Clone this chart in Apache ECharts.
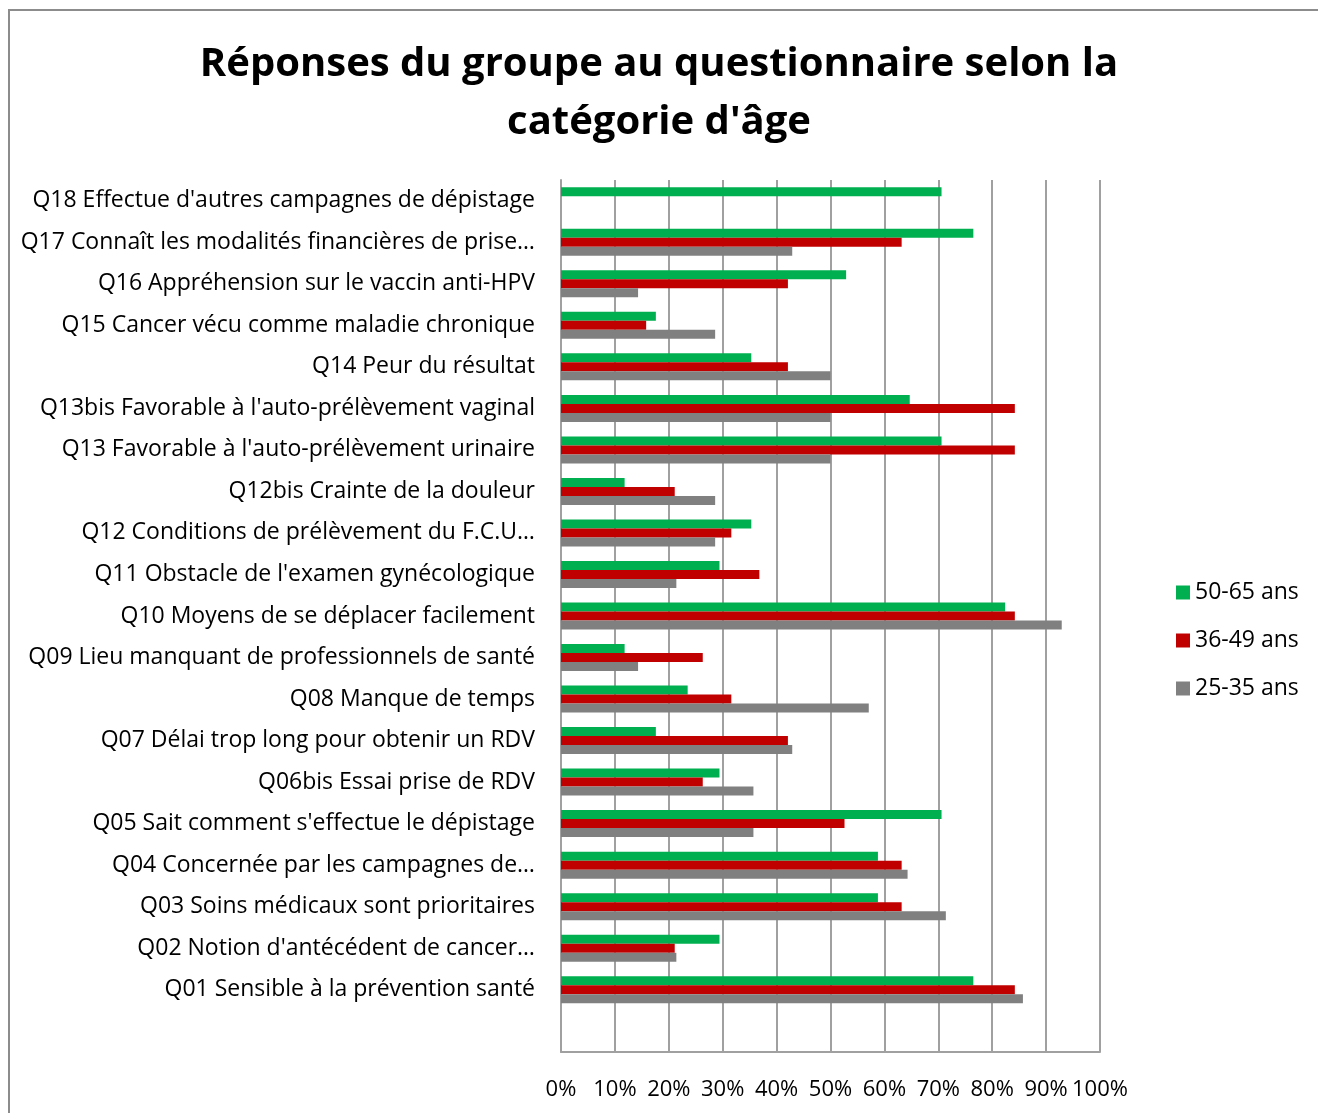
<!DOCTYPE html>
<html>
<head>
<meta charset="utf-8">
<script src="https://cdn.jsdelivr.net/npm/echarts@6/dist/echarts.min.js"></script>
<style>
  html, body { margin: 0; padding: 0; background: #fff; }
  #chart { width: 1318px; height: 1113px; }
</style>
</head>
<body>
<div id="chart"></div>
<script>
// categories bottom -> top (Q01 at bottom like the original); the first one is the empty slot under Q01
var questions = [
    "",
    "Q01 Sensible à la prévention santé",
    "Q02 Notion d'antécédent de cancer…",
    "Q03 Soins médicaux sont prioritaires",
    "Q04 Concernée par les campagnes de…",
    "Q05 Sait comment s'effectue le dépistage",
    "Q06bis Essai prise de RDV",
    "Q07 Délai trop long pour obtenir un RDV",
    "Q08 Manque de temps",
    "Q09 Lieu manquant de professionnels de santé",
    "Q10 Moyens de se déplacer facilement",
    "Q11 Obstacle de l'examen gynécologique",
    "Q12 Conditions de prélèvement du F.C.U…",
    "Q12bis Crainte de la douleur",
    "Q13 Favorable à l'auto-prélèvement urinaire",
    "Q13bis Favorable à l'auto-prélèvement vaginal",
    "Q14 Peur du résultat",
    "Q15 Cancer vécu comme maladie chronique",
    "Q16 Appréhension sur le vaccin anti-HPV",
    "Q17 Connaît les modalités financières de prise…",
    "Q18 Effectue d'autres campagnes de dépistage"
];

// percentages, same order as questions
var ans50_65 = [null, 76.5, 29.4, 58.8, 58.8, 70.6, 29.4, 17.6, 23.5, 11.8, 82.4, 29.4, 35.3, 11.8, 70.6, 64.7, 35.3, 17.6, 52.9, 76.5, 70.6];
var ans36_49 = [null, 84.2, 21.1, 63.2, 63.2, 52.6, 26.3, 42.1, 31.6, 26.3, 84.2, 36.8, 31.6, 21.1, 84.2, 84.2, 42.1, 15.8, 42.1, 63.2, 0];
var ans25_35 = [null, 85.7, 21.4, 71.4, 64.3, 35.7, 35.7, 42.9, 57.1, 14.3, 92.9, 21.4, 28.6, 28.6, 50.0, 50.0, 50.0, 28.6, 14.3, 42.9, 0];

var seriesNames = ['50-65 ans', '36-49 ans', '25-35 ans'];
var seriesColors = ['#00b050', '#c00000', '#808080'];

var font = 'Open Sans';

var chart = echarts.init(document.getElementById('chart'));

function barSeries(name, data, color) {
    return {
        name: name,
        type: 'bar',
        data: data,
        barWidth: 9,
        barGap: '0%',
        itemStyle: { color: color },
        animation: false
    };
}

var option = {
    backgroundColor: '#fff',
    textStyle: { fontFamily: font },
    title: {
        text: "Réponses du groupe au questionnaire selon la\ncatégorie d'âge",
        left: 'center',
        top: 31,
        textStyle: { fontSize: 40, fontWeight: 'bold', color: '#000', lineHeight: 58, fontFamily: font }
    },
    graphic: [{
        type: 'rect',
        shape: { x: 9, y: 10, width: 1400, height: 1200 },
        style: { fill: null, stroke: '#8c8c8c', lineWidth: 2 },
        silent: true
    }],
    legend: {
        orient: 'vertical',
        left: 1171,
        top: 576,
        itemWidth: 14,
        itemHeight: 14,
        itemGap: 25,
        icon: 'rect',
        data: seriesNames,
        textStyle: { fontSize: 23, color: '#000', fontFamily: font }
    },
    grid: {
        left: 561,
        right: 218,
        top: 180,
        bottom: 61,
        containLabel: false
    },
    xAxis: {
        type: 'value',
        min: 0,
        max: 100,
        interval: 10,
        axisLine: { show: true, lineStyle: { color: '#a0a0a0', width: 2 } },
        axisTick: { show: false },
        splitLine: { show: true, lineStyle: { color: '#a0a0a0', width: 2 } },
        axisLabel: {
            formatter: '{value}%',
            fontSize: 22,
            color: '#000',
            margin: 27,
            fontFamily: font
        }
    },
    yAxis: {
        type: 'category',
        data: questions,
        axisLine: { show: true, lineStyle: { color: '#a0a0a0', width: 2 } },
        axisTick: { show: false },
        axisLabel: { fontSize: 23, color: '#000', margin: 26, padding: [5, 0, 0, 0], fontFamily: font }
    },
    series: [
        barSeries(seriesNames[0], ans50_65, seriesColors[0]),
        barSeries(seriesNames[1], ans36_49, seriesColors[1]),
        barSeries(seriesNames[2], ans25_35, seriesColors[2])
    ]
};

chart.setOption(option);
</script>
</body>
</html>
